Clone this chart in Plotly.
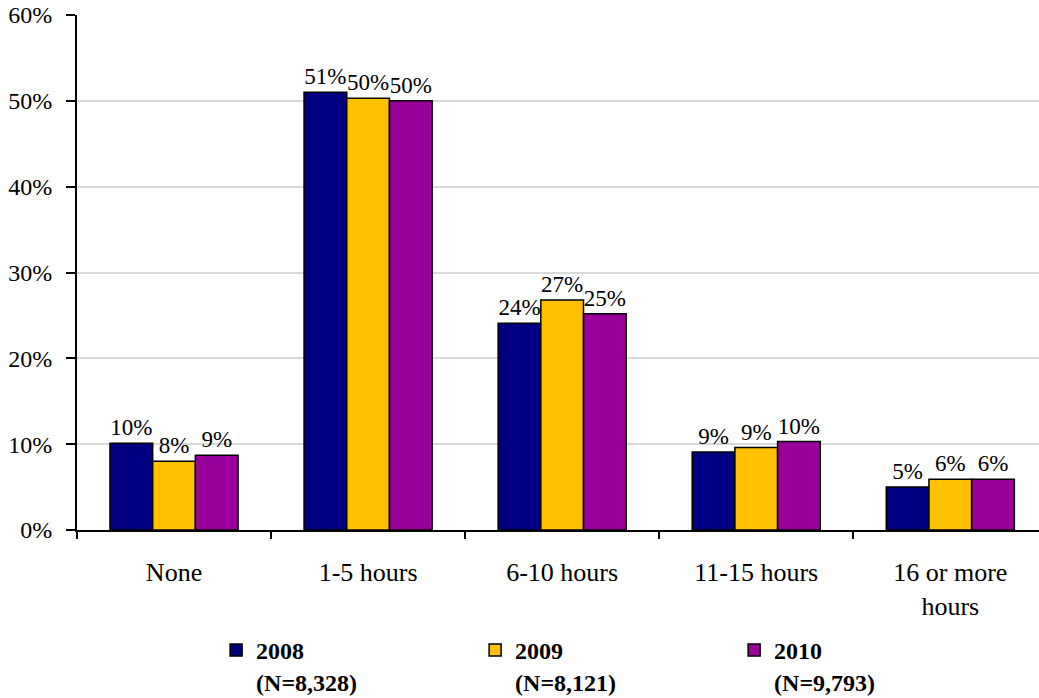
import plotly.graph_objects as go

categories = ["None", "1-5 hours", "6-10 hours", "11-15 hours", "16 or more<br>hours"]
series_names = ["<b>2008</b><br><b>(N=8,328)</b>", "<b>2009</b><br><b>(N=8,121)</b>", "<b>2010</b><br><b>(N=9,793)</b>"]
values_2008 = [10.1, 51.0, 24.1, 9.1, 5.0]
values_2009 = [8.0, 50.3, 26.8, 9.6, 5.9]
values_2010 = [8.7, 50.0, 25.2, 10.3, 5.9]
labels_2008 = ["10%", "51%", "24%", "9%", "5%"]
labels_2009 = ["8%", "50%", "27%", "9%", "6%"]
labels_2010 = ["9%", "50%", "25%", "10%", "6%"]
colors = ["#000080", "#FFC000", "#990099"]
y_ticks = [0, 10, 20, 30, 40, 50, 60]

FONT = "Liberation Serif"

fig = go.Figure()
for name, vals, labs, col in zip(series_names,
                                 [values_2008, values_2009, values_2010],
                                 [labels_2008, labels_2009, labels_2010],
                                 colors):
    fig.add_trace(go.Bar(
        x=categories, y=vals, name=name, text=labs,
        textposition="outside", cliponaxis=False, constraintext="none",
        textfont=dict(family=FONT, size=23, color="black"),
        marker=dict(color=col, line=dict(color="black", width=1.5)),
    ))

fig.update_layout(
    width=1039, height=698,
    paper_bgcolor="white", plot_bgcolor="white",
    margin=dict(l=77, r=0, t=15, b=168, autoexpand=False),
    barmode="group", bargap=0.34, bargroupgap=0,
    font=dict(family=FONT, color="black"),
    showlegend=True,
    legend=dict(
        orientation="h", xref="container", yref="container",
        x=0.208, y=0.1003, xanchor="left", yanchor="top",
        entrywidth=214, entrywidthmode="pixels",
        valign="top", traceorder="normal",
        font=dict(family=FONT, size=24, color="black"),
    ),
)
fig.update_xaxes(
    range=[-0.5, 4.457], automargin=False,
    showline=True, linecolor="black", linewidth=2,
    ticks="outside", tickson="boundaries", ticklen=7, tickwidth=2, tickcolor="black",
    tickfont=dict(family=FONT, size=26, color="black"),
    ticklabelstandoff=18,
    showgrid=False,
)
fig.update_yaxes(
    range=[0, 60], tickvals=y_ticks, ticktext=[f"{v}%" for v in y_ticks],
    automargin=False,
    showline=True, linecolor="black", linewidth=2,
    ticks="outside", ticklen=9, tickwidth=2, tickcolor="black",
    tickfont=dict(family=FONT, size=24, color="black"),
    ticklabelstandoff=9,
    showgrid=True, gridcolor="#d9d9d9", gridwidth=1.5,
    zeroline=False,
)

fig.write_html("out.html", config={"displayModeBar": False},
               post_script="document.body.style.margin='0';")
